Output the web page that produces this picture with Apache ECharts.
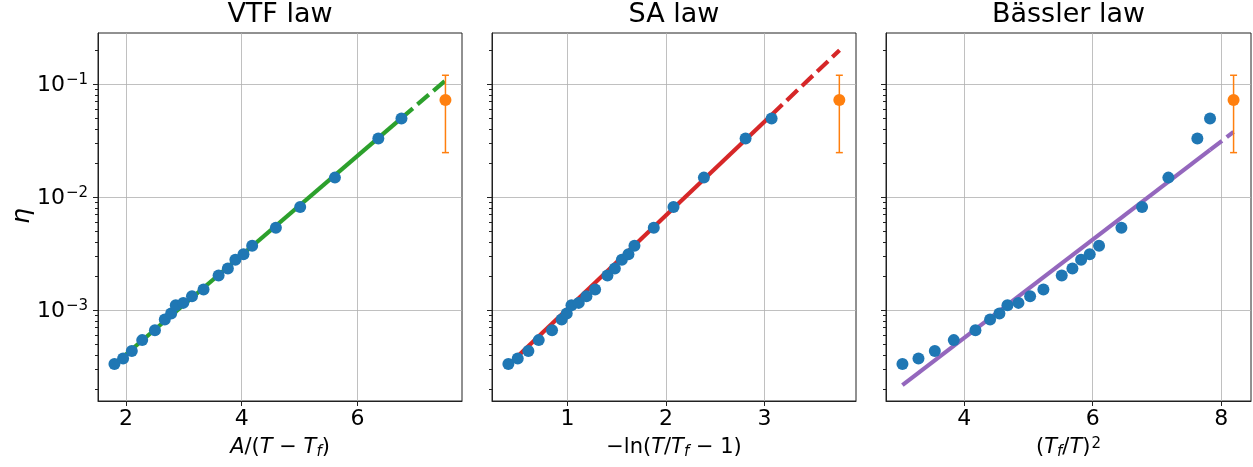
<!DOCTYPE html>
<html>
<head>
<meta charset="utf-8">
<script src="https://cdn.jsdelivr.net/npm/echarts@6/dist/echarts.min.js"></script>
<style>
  html, body { margin: 0; padding: 0; background: #fff; }
  #chart { width: 1253px; height: 467px; }
</style>
</head>
<body>
<div id="chart"></div>
<script>
// ---- data ----
const eta = [3.33e-4, 3.73e-4, 4.36e-4, 5.43e-4, 6.65e-4, 8.26e-4, 9.35e-4, 1.107e-3, 1.16e-3, 1.33e-3,
  1.52e-3, 2.03e-3, 2.34e-3, 2.79e-3, 3.13e-3, 3.71e-3, 5.36e-3, 8.17e-3, 1.49e-2, 3.30e-2, 4.97e-2];
const xVTF = [1.80, 1.95, 2.10, 2.28, 2.50, 2.67, 2.78, 2.86, 2.99, 3.14, 3.34, 3.60, 3.76, 3.89, 4.03,
  4.18, 4.59, 5.01, 5.61, 6.36, 6.76];
const xSA = [0.401, 0.496, 0.604, 0.709, 0.844, 0.942, 0.993, 1.041, 1.115, 1.193, 1.281, 1.406, 1.481,
  1.552, 1.619, 1.680, 1.876, 2.076, 2.384, 2.807, 3.071];
const xBassler = [3.041, 3.290, 3.544, 3.839, 4.176, 4.404, 4.549, 4.674, 4.845, 5.026, 5.233, 5.518,
  5.684, 5.819, 5.953, 6.098, 6.446, 6.767, 7.176, 7.627, 7.824];

// extrapolated point with error bar
const etaNew = 0.0726, etaNewLow = 0.0248, etaNewHigh = 0.120;
const xNew = [7.52, 3.758, 8.19];           // VTF, SA, Bässler abscissa

// fit lines: [start, end of solid part (= end of data), end of dashed extrapolation]
const fitVTF = [[1.80, 3.32e-4], [6.76, 0.0501], [7.52, 0.108]];
const fitSA = [[0.40, 3.25e-4], [3.07, 0.0535], [3.76, 0.200]];
const fitBassler = [[3.04, 2.17e-4], [7.824, 0.0262], [8.19, 0.0378]];

const titles = ['VTF law', 'SA law', 'Bässler law'];
const xRanges = [[1.516, 7.806], [0.235, 3.927], [2.785, 8.461]];
const xTicks = [[2, 4, 6], [1, 2, 3], [4, 6, 8]];
const yRange = [1.57e-4, 0.284];
const yMajor = [1e-3, 1e-2, 1e-1];
const yMinor = [2e-4, 3e-4, 4e-4, 5e-4, 6e-4, 7e-4, 8e-4, 9e-4,
  2e-3, 3e-3, 4e-3, 5e-3, 6e-3, 7e-3, 8e-3, 9e-3,
  2e-2, 3e-2, 4e-2, 5e-2, 6e-2, 7e-2, 8e-2, 9e-2, 2e-1];

// ---- styling ----
const FONT = 'DejaVu Sans';
const C = { blue: '#1f77b4', orange: '#ff7f0e', fits: ['#2ca02c', '#d62728', '#9467bd'] };
const xNames = [
  '{i|A}{n|/(}{i|T}{n| − }{i|T}{sub|f}{n|)}',
  '{n|−ln(}{i|T}{n|/}{i|T}{sub|f}{n| − 1)}',
  '{n|(}{i|T}{sub|f}{n|/}{i|T}{n|)}{sup|2}'
];
const nameRich = {
  n: { fontFamily: FONT, fontSize: 21, color: '#000', lineHeight: 24, verticalAlign: 'top' },
  i: { fontFamily: FONT, fontSize: 21, fontStyle: 'italic', color: '#000', lineHeight: 24, verticalAlign: 'top' },
  sub: { fontFamily: FONT, fontSize: 15, fontStyle: 'italic', color: '#000', lineHeight: 15, verticalAlign: 'top', padding: [8, 0, 0, 0] },
  sup: { fontFamily: FONT, fontSize: 15, color: '#000', lineHeight: 15, verticalAlign: 'top', padding: [0, 0, 0, 1] }
};

const gridLefts = [98, 492, 886];
const gridWidths = [364, 364, 365];
const GT = 33, GH = 368;

const grids = [], xAxes = [], yAxes = [], series = [], titleList = [];
for (let p = 0; p < 3; p++) {
  grids.push({ left: gridLefts[p], top: GT, width: gridWidths[p], height: GH,
    show: true, borderColor: '#222', borderWidth: 1, backgroundColor: 'transparent', containLabel: false });
  titleList.push({ text: titles[p], left: gridLefts[p] + gridWidths[p] / 2, top: 1, textAlign: 'center', padding: 0,
    textStyle: { fontFamily: FONT, fontSize: 27, fontWeight: 'normal', color: '#000' } });
  xAxes.push({
    type: 'value', gridIndex: p, min: xRanges[p][0], max: xRanges[p][1],
    name: xNames[p], nameLocation: 'middle', nameGap: 36,
    nameTextStyle: { rich: nameRich },
    axisLine: { show: true, onZero: false, lineStyle: { color: '#222', width: 1 } },
    axisTick: { show: true, length: 5, customValues: xTicks[p], lineStyle: { color: '#222' } },
    axisLabel: { customValues: xTicks[p], fontFamily: FONT, fontSize: 22, color: '#000', margin: 7 },
    splitLine: { show: true, lineStyle: { color: '#b0b0b0', width: 0.8 } }
  });
  yAxes.push({
    type: 'log', logBase: 10, gridIndex: p, min: yRange[0], max: yRange[1], position: 'left',
    axisLine: { show: true, lineStyle: { color: '#222', width: 1 } },
    axisTick: { show: true, length: 5, customValues: yMajor, lineStyle: { color: '#222' } },
    axisLabel: {
      show: p === 0, customValues: yMajor, margin: 10,
      formatter: v => '{b|10}{s|−' + Math.round(-Math.log10(v)) + '}',
      rich: {
        b: { fontFamily: FONT, fontSize: 22, color: '#000', lineHeight: 24, verticalAlign: 'bottom' },
        s: { fontFamily: FONT, fontSize: 15, color: '#000', lineHeight: 15, verticalAlign: 'top', padding: [0, 0, 0, 1] }
      }
    },
    splitLine: { show: true, lineStyle: { color: '#b0b0b0', width: 0.8 } }
  });
  yAxes.push({
    type: 'log', logBase: 10, gridIndex: p, min: yRange[0], max: yRange[1], position: 'left', offset: 0,
    axisLine: { show: false },
    axisTick: { show: true, length: 3, customValues: yMinor, lineStyle: { color: '#222' } },
    axisLabel: { show: false },
    splitLine: { show: false }
  });
}

const xData = [xVTF, xSA, xBassler];
const fits = [fitVTF, fitSA, fitBassler];
for (let p = 0; p < 3; p++) {
  const yi = p * 2;
  series.push({
    type: 'line', xAxisIndex: p, yAxisIndex: yi, data: fits[p].slice(0, 2), symbol: 'none', z: 2,
    lineStyle: { color: C.fits[p], width: 4.2, cap: 'butt' }, silent: true
  });
  series.push({
    type: 'line', xAxisIndex: p, yAxisIndex: yi, data: fits[p].slice(1, 3), symbol: 'none', z: 2,
    lineStyle: { color: C.fits[p], width: 4.2, type: [15, 6], cap: 'butt' }, silent: true
  });
  series.push({
    type: 'scatter', xAxisIndex: p, yAxisIndex: yi, z: 3,
    data: xData[p].map((x, k) => [x, eta[k]]), symbolSize: 12,
    itemStyle: { color: C.blue, opacity: 1 }
  });
  series.push({
    type: 'custom', xAxisIndex: p, yAxisIndex: yi, z: 3,
    data: [[xNew[p], etaNewLow, etaNewHigh]],
    renderItem: (params, api) => {
      const lo = api.coord([api.value(0), api.value(1)]);
      const hi = api.coord([api.value(0), api.value(2)]);
      const cw = 3.5;
      const st = { stroke: C.orange, lineWidth: 1.5 };
      return { type: 'group', children: [
        { type: 'line', shape: { x1: lo[0], y1: lo[1], x2: hi[0], y2: hi[1] }, style: st },
        { type: 'line', shape: { x1: lo[0] - cw, y1: lo[1], x2: lo[0] + cw, y2: lo[1] }, style: st },
        { type: 'line', shape: { x1: hi[0] - cw, y1: hi[1], x2: hi[0] + cw, y2: hi[1] }, style: st }
      ] };
    }
  });
  series.push({
    type: 'scatter', xAxisIndex: p, yAxisIndex: yi, z: 4,
    data: [[xNew[p], etaNew]], symbolSize: 12, itemStyle: { color: C.orange, opacity: 1 }
  });
}

const chart = echarts.init(document.getElementById('chart'), null, { renderer: 'canvas' });
chart.setOption({
  animation: false,
  backgroundColor: '#fff',
  title: titleList,
  grid: grids,
  xAxis: xAxes,
  yAxis: yAxes,
  series: series,
  graphic: [{
    type: 'text', x: 22, y: 216, rotation: Math.PI / 2,
    style: { text: 'η', font: 'italic 25px "DejaVu Sans"', fill: '#000', align: 'center', verticalAlign: 'middle' }
  }]
});
</script>
</body>
</html>
